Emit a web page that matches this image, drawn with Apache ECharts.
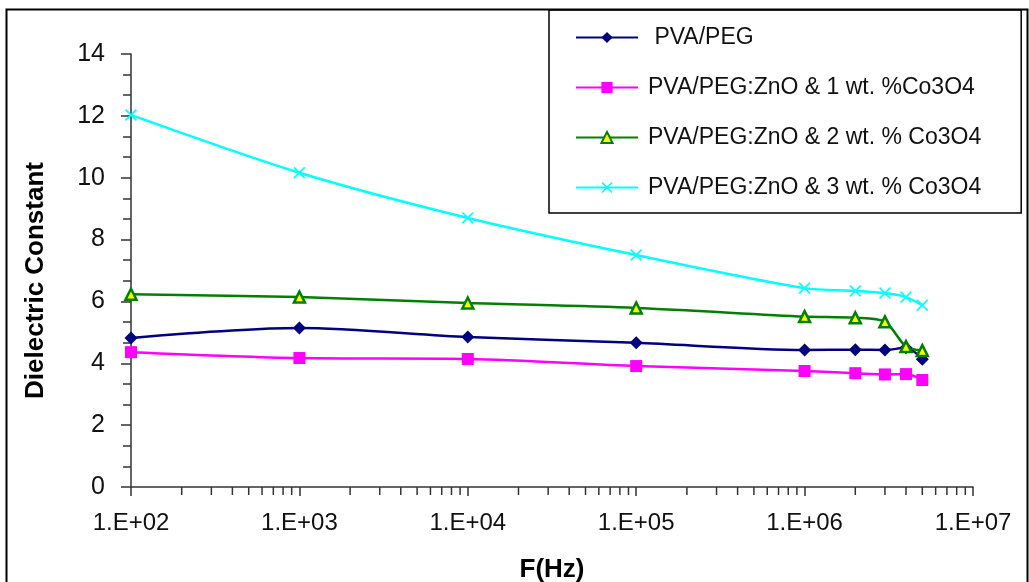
<!DOCTYPE html>
<html>
<head>
<meta charset="utf-8">
<script src="https://cdn.jsdelivr.net/npm/echarts@6/dist/echarts.min.js"></script>
<style>html,body{margin:0;padding:0;background:#fff;overflow:hidden}#c{width:1029px;height:582px}</style>
</head>
<body>
<div id="c"></div>
<script>
var freq = [1e2, 1e3, 1e4, 1e5, 1e6, 2e6, 3e6, 4e6, 5e6];
var pvaPeg  = [4.82, 5.14, 4.85, 4.66, 4.43, 4.44, 4.43, 4.50, 4.13];
var co1     = [4.36, 4.17, 4.14, 3.91, 3.75, 3.68, 3.64, 3.65, 3.46];
var co2     = [6.23, 6.14, 5.95, 5.79, 5.51, 5.47, 5.34, 4.54, 4.41];
var co3     = [12.03, 10.16, 8.70, 7.50, 6.43, 6.34, 6.27, 6.14, 5.88];
var seriesNames = [' PVA/PEG', 'PVA/PEG:ZnO & 1 wt. %Co3O4', 'PVA/PEG:ZnO & 2 wt. % Co3O4', 'PVA/PEG:ZnO & 3 wt. % Co3O4'];
var yTicks = [0, 2, 4, 6, 8, 10, 12, 14];
var xMinorTicks = [];
[1e2, 1e3, 1e4, 1e5, 1e6].forEach(function (d) {
  for (var k = 2; k <= 9; k++) xMinorTicks.push(k * d);
});

function pairs(vals) { return freq.map(function (f, i) { return [f, vals[i]]; }); }

var FONT = '"Liberation Sans", sans-serif';
var crossPath = 'path://M1,0L5,4L9,0L10,1L6,5L10,9L9,10L5,6L1,10L0,9L4,5L0,1Z';

var chart = echarts.init(document.getElementById('c'), null, {renderer: 'canvas', width: 1029, height: 582});
chart.setOption({
  animation: false,
  backgroundColor: '#fff',
  textStyle: {fontFamily: FONT},
  graphic: [{
    type: 'rect', left: 4, top: 7, z: 100, silent: true,
    shape: {width: 1021, height: 600},
    style: {fill: 'none', stroke: '#000', lineWidth: 2}
  }],
  grid: {left: 131, width: 842, top: 54, height: 433, containLabel: false, outerBoundsMode: 'none'},
  legend: {
    orient: 'vertical', left: 549, top: 10,
    itemWidth: 62, itemHeight: 14, itemGap: 25,
    padding: [15, 40, 13, 26],
    borderColor: '#000', borderWidth: 1.5,
    textStyle: {fontFamily: FONT, fontSize: 23, color: '#111', lineHeight: 25, padding: [0, 0, 0, 5]},
    data: seriesNames
  },
  xAxis: {
    type: 'log', logBase: 10, min: 100, max: 1e7,
    name: 'F(Hz)', nameLocation: 'middle', nameGap: 70,
    nameTextStyle: {fontFamily: FONT, fontSize: 26, fontWeight: 'bold', color: '#000'},
    axisLine: {lineStyle: {color: '#333', width: 1.5}},
    axisTick: {show: true, inside: false, length: 9, lineStyle: {color: '#333', width: 1.5}},
    splitLine: {show: false},
    axisLabel: {
      fontFamily: FONT, fontSize: 24, color: '#111', margin: 24,
      formatter: function (v) {
        var e = Math.round(Math.log10(v));
        return '1.E+' + (e < 10 ? '0' : '') + e;
      }
    }
  },
  yAxis: {
    type: 'value', min: yTicks[0], max: yTicks[yTicks.length - 1], interval: 2,
    name: 'Dielectric Constant', nameLocation: 'middle', nameGap: 82,
    nameTextStyle: {fontFamily: FONT, fontSize: 26, fontWeight: 'bold', color: '#000', padding: [0, 20, 0, 0]},
    axisLine: {show: true, lineStyle: {color: '#333', width: 1.5}},
    axisTick: {show: true, inside: false, length: 10, lineStyle: {color: '#333', width: 1.5}},
    minorTick: {show: true, splitNumber: 3, length: 8, lineStyle: {color: '#333', width: 1.5}},
    splitLine: {show: false},
    axisLabel: {fontFamily: FONT, fontSize: 25, color: '#111', margin: 26}
  },
  series: [
    {
      name: seriesNames[0], type: 'line', data: pairs(pvaPeg), smooth: 0.3,
      symbol: 'diamond', symbolSize: 13,
      lineStyle: {color: '#000080', width: 2.5},
      itemStyle: {color: '#000080'}
    },
    {
      name: seriesNames[1], type: 'line', data: pairs(co1), smooth: 0.3,
      symbol: 'rect', symbolSize: 12,
      lineStyle: {color: '#FF00FF', width: 2.5},
      itemStyle: {color: '#FF00FF'}
    },
    {
      name: seriesNames[2], type: 'line', data: pairs(co2), smooth: 0.3,
      symbol: 'triangle', symbolSize: 11,
      lineStyle: {color: '#008000', width: 2.5},
      itemStyle: {color: '#FFFF00', borderColor: '#008000', borderWidth: 2.5}
    },
    {
      name: seriesNames[3], type: 'line', data: pairs(co3), smooth: 0.3,
      symbol: crossPath, symbolSize: 12,
      lineStyle: {color: '#00FFFF', width: 2.5},
      itemStyle: {color: '#00FFFF'}
    },
    {
      type: 'custom', silent: true, clip: false,
      data: xMinorTicks.map(function (v) { return [v]; }),
      encode: {x: 0},
      renderItem: function (params, api) {
        var p = api.coord([api.value(0), 0]);
        return {
          type: 'line',
          shape: {x1: p[0], y1: p[1], x2: p[0], y2: p[1] + 8},
          style: {stroke: '#333', lineWidth: 1.5}
        };
      }
    }
  ]
});
</script>
</body>
</html>
